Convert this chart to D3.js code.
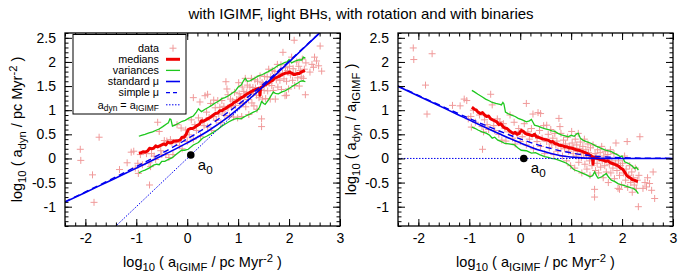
<!DOCTYPE html>
<html><head><meta charset="utf-8">
<script src="https://cdn.jsdelivr.net/npm/d3@7"></script>
<style>
body{margin:0;background:#fff}
svg{display:block}
text{font-family:"Liberation Sans",Arial,Helvetica,sans-serif;white-space:pre;fill:#000}
</style>
</head><body>
<svg id="c" width="680" height="275"></svg>
<script>
// ---------------- data ----------------
const title = "with IGIMF, light BHs, with rotation and with binaries";
const xTickValues = [-2, -1, 0, 1, 2, 3];
const yTickValues = [-1, -0.5, 0, 0.5, 1, 1.5, 2, 2.5];
const legendLabels = ["data", "medians", "variances", "standard \u03bc", "simple \u03bc", "adyn = aIGIMF"];
const a0Log = 0.07;

// scatter: [log10 a_IGIMF, log10 (a_dyn / a_IGIMF)]
const dataPoints = [
  [-2.10,2.29],[-2.09,2.05],[-1.73,2.17],[-1.86,1.52],[-1.83,0.92],[-0.74,0.19],
  [-1.33,1.10],[-1.18,1.09],[-1.10,1.23],[-1.02,0.82],[-0.97,0.87],[-0.96,0.65],
  [-0.58,1.33],[-0.55,1.11],[0.12,1.14],[0.25,0.92],[0.35,0.95],[0.40,0.93],
  [0.76,0.83],[0.78,0.66],[0.80,0.52],[1.01,0.56],[2.10,0.35],[2.35,0.45],
  [2.32,-1.00],[2.64,-0.83],[2.61,-0.28],[2.54,-0.52],[2.48,-0.59],[2.58,-0.66],
  [2.41,-0.62],[1.46,-0.80],[1.46,-0.64],[1.92,-0.62],[1.95,-0.64],[2.45,-0.50],[2.50,-0.40],
  [-0.40,0.76],[-0.36,0.38],[-0.20,0.90],[0.52,0.69],
  [-1.05,1.20],[-0.92,1.00],[-0.88,0.75],[-0.80,0.90],[-0.75,0.66],[-0.72,0.55],
  [-0.70,0.80],[-0.65,0.70],[-0.62,0.60],[-0.52,0.68],[-0.50,0.58],
  [-0.45,0.82],[-0.42,0.50],[-0.33,0.72],[-0.30,0.62],[-0.28,0.36],[-0.22,0.55],
  [-0.15,0.42],[-0.12,0.75],[-0.10,0.30],[-0.06,0.50],[-0.03,0.62],[0.00,0.35],
  [0.04,0.45],[0.08,0.72],[0.12,0.28],[0.15,0.55],[0.18,0.40],[0.22,0.62],
  [0.26,0.20],[0.30,0.48],[0.33,0.35],[0.38,0.58],[0.40,0.25],[0.43,0.42],
  [0.46,0.68],[0.48,0.10],[0.52,0.35],[0.55,0.50],[0.57,0.22],[0.60,0.60],
  [0.62,0.30],[0.64,0.42],[0.66,0.08],[0.68,0.52],[0.70,0.28],[0.72,0.36],
  [0.74,0.15],[0.80,0.25],[0.83,0.05],[0.85,0.38],[0.87,0.20],[0.89,0.30],
  [0.91,-0.05],[0.93,0.44],[0.95,0.15],[0.97,0.25],[0.99,-0.15],
  [1.02,0.32],[1.04,0.10],[1.05,0.22],[1.07,-0.20],[1.08,0.40],[1.10,0.05],
  [1.11,0.28],[1.13,0.15],[1.14,0.52],[1.15,-0.08],[1.17,0.20],[1.18,0.34],
  [1.20,0.02],[1.21,-0.30],[1.23,0.25],[1.24,0.10],[1.26,0.40],[1.27,-0.12],
  [1.29,0.18],[1.30,0.05],[1.31,-0.22],[1.33,0.30],[1.34,0.12],[1.36,-0.05],
  [1.37,-0.35],[1.38,0.22],[1.40,0.02],[1.41,-0.15],[1.43,0.28],[1.44,-0.02],
  [1.47,0.10],[1.48,-0.25],[1.49,0.05],[1.51,-0.10],[1.52,0.18],[1.54,-0.30],
  [1.55,0.00],[1.57,0.12],[1.58,-0.18],[1.60,0.25],[1.61,-0.05],[1.63,-0.40],
  [1.64,0.05],[1.66,-0.15],[1.67,0.15],[1.69,-0.28],[1.70,-0.02],[1.72,0.08],
  [1.73,-0.50],[1.75,-0.12],[1.77,0.18],[1.78,-0.30],[1.80,-0.05],[1.82,-0.20],
  [1.84,0.10],[1.85,-0.42],[1.87,-0.10],[1.88,0.32],[1.90,-0.25],[1.93,-0.05],
  [1.95,-0.35],[1.97,-0.15],[1.99,-0.55],[2.01,-0.10],[2.03,-0.30],[2.05,0.05],
  [2.07,-0.45],[2.08,-0.22],[2.11,-0.60],[2.13,-0.35],[2.15,-0.15],[2.17,-0.50],
  [2.19,-0.28],[2.20,-0.70],[2.22,-0.40],[2.24,-0.55],[2.26,-0.20],[2.28,-0.62],
  [2.30,-0.45],[2.33,-0.35]
];

const medianLine = [
  [-0.95,1.06],[-0.90,1.02],[-0.86,1.00],[-0.83,0.96],[-0.78,0.93],[-0.74,0.95],[-0.70,0.90],
  [-0.66,0.87],[-0.62,0.88],[-0.58,0.82],[-0.54,0.80],[-0.50,0.78],[-0.46,0.76],[-0.42,0.70],
  [-0.38,0.72],[-0.34,0.66],[-0.30,0.63],[-0.26,0.62],[-0.22,0.58],[-0.18,0.55],[-0.14,0.52],
  [-0.10,0.54],[-0.06,0.50],[-0.02,0.52],[0.02,0.58],[0.06,0.56],[0.10,0.52],[0.14,0.50],
  [0.19,0.49],[0.24,0.47],[0.28,0.50],[0.32,0.45],[0.35,0.44],[0.40,0.42],[0.45,0.40],
  [0.50,0.39],[0.55,0.38],[0.60,0.34],[0.64,0.35],[0.68,0.31],[0.72,0.30],[0.76,0.28],
  [0.80,0.27],[0.84,0.26],[0.88,0.24],[0.92,0.24],[0.96,0.22],[1.01,0.21],[1.05,0.20],
  [1.10,0.18],[1.15,0.17],[1.20,0.15],[1.25,0.13],[1.30,0.11],[1.35,0.08],[1.40,0.05],
  [1.42,0.00],[1.43,-0.12],[1.44,0.03],[1.48,0.01],[1.52,0.00],[1.56,-0.02],[1.60,-0.03],
  [1.64,-0.04],[1.68,-0.06],[1.72,-0.05],[1.76,-0.08],[1.80,-0.10],[1.85,-0.12],[1.89,-0.14],
  [1.93,-0.16],[1.97,-0.20],[2.01,-0.22],[2.05,-0.28],[2.09,-0.35],[2.12,-0.38],[2.16,-0.40],
  [2.20,-0.44],[2.24,-0.45],[2.28,-0.47],[2.31,-0.48]
];

const upperVariance = [
  [-0.95,1.41],[-0.90,1.38],[-0.83,1.33],[-0.75,1.28],[-0.68,1.23],[-0.60,1.19],[-0.55,1.16],
  [-0.48,1.14],[-0.40,1.12],[-0.37,1.11],[-0.34,1.16],[-0.32,1.13],[-0.29,0.96],[-0.24,0.93],
  [-0.17,0.90],[-0.10,0.87],[-0.04,0.83],[0.04,0.80],[0.12,0.76],[0.18,0.78],[0.22,0.81],
  [0.25,0.75],[0.28,0.69],[0.35,0.67],[0.42,0.64],[0.48,0.62],[0.55,0.60],[0.62,0.57],
  [0.68,0.56],[0.74,0.52],[0.81,0.49],[0.88,0.47],[0.94,0.45],[1.00,0.48],[1.06,0.46],
  [1.11,0.51],[1.14,0.52],[1.18,0.42],[1.23,0.38],[1.30,0.35],[1.40,0.31],[1.48,0.26],
  [1.55,0.23],[1.59,0.21],[1.66,0.18],[1.72,0.16],[1.79,0.14],[1.86,0.10],[1.92,0.07],
  [1.96,0.04],[2.00,0.05],[2.05,-0.07],[2.12,-0.10],[2.18,-0.14],[2.25,-0.21],[2.28,-0.18],
  [2.32,-0.24]
];

const lowerVariance = [
  [-0.95,0.65],[-0.88,0.62],[-0.83,0.59],[-0.75,0.55],[-0.66,0.52],[-0.60,0.48],[-0.55,0.42],
  [-0.50,0.44],[-0.44,0.38],[-0.37,0.35],[-0.30,0.31],[-0.22,0.30],[-0.11,0.28],[-0.05,0.22],
  [0.02,0.17],[0.12,0.16],[0.18,0.13],[0.22,0.11],[0.30,0.12],[0.38,0.08],[0.48,0.04],
  [0.55,0.02],[0.61,0.00],[0.68,-0.01],[0.74,-0.03],[0.82,-0.06],[0.91,-0.10],[0.98,-0.15],
  [1.04,-0.22],[1.07,-0.24],[1.15,-0.27],[1.23,-0.31],[1.30,-0.34],[1.37,-0.38],[1.42,-0.36],
  [1.46,-0.28],[1.50,-0.36],[1.53,-0.41],[1.60,-0.38],[1.69,-0.31],[1.73,-0.38],[1.79,-0.45],
  [1.86,-0.48],[1.92,-0.52],[2.00,-0.55],[2.06,-0.57],[2.12,-0.59],[2.18,-0.61],[2.22,-0.62],
  [2.27,-0.66],[2.32,-0.73]
];

// model curves: log10 a_IGIMF and boost log10(a_dyn/a_IGIMF)
const modelLogA      = [-2.4, -2.0, -1.6, -1.2, -0.8, -0.4, 0.0, 0.4, 0.8, 1.2, 1.6, 2.0, 2.4, 3.0];
const standardBoost  = [1.495, 1.295, 1.096, 0.897, 0.699, 0.506, 0.323, 0.164, 0.056, 0.012, 0.002, 0.000, 0.000, 0.000];
const simpleBoost    = [1.502, 1.306, 1.113, 0.923, 0.739, 0.564, 0.404, 0.265, 0.156, 0.081, 0.037, 0.016, 0.007, 0.002];
const identityLogA   = [-2.4, 3.0];

// ---------------- drawing ----------------
const svg = d3.select("#c");
const FONT = '"Liberation Sans",Arial,Helvetica,sans-serif';
const C = {pt:"#f09a9a", red:"#f00000", green:"#1ec81e", blue:"#0000f0"};

function rich(textSel, parts, size, subShift = 4, supShift = -5) {
  let cur = 0;
  parts.forEach(([t, m]) => {
    const shift = m === 1 ? subShift : m === 2 ? supShift : 0;
    textSel.append("tspan").attr("dy", shift - cur)
      .attr("font-size", m ? size * 0.78 : size).text(t);
    cur = shift;
  });
  return textSel;
}

svg.append("text").attr("x", 361).attr("y", 18.5).attr("text-anchor", "middle")
  .attr("font-size", 15).text(title);

const TOP = 33, BOT = 226;
const panels = [
  {x0: 65, x1: 340, mode: "abs"},
  {x0: 398, x1: 673, mode: "ratio"}
];

const xMinor = d3.range(-24, 31, 2).map(v => v / 10);
const yMinor = d3.range(-14, 27, 1).map(v => v / 10);

panels.forEach((P, pi) => {
  const x = d3.scaleLinear().domain([-2.4, 3]).range([P.x0, P.x1]);
  const y = d3.scaleLinear().domain([-1.4, 2.6]).range([BOT, TOP]);
  const g = svg.append("g");
  const clipId = "clip" + pi;
  svg.append("clipPath").attr("id", clipId).append("rect")
    .attr("x", P.x0).attr("y", TOP).attr("width", P.x1 - P.x0).attr("height", BOT - TOP);
  const plot = g.append("g").attr("clip-path", `url(#${clipId})`);

  const toY = (lx, r) => P.mode === "abs" ? r + lx : r;

  // data crosses
  const s = 3.5;
  plot.append("g").selectAll("path").data(dataPoints).join("path")
    .attr("d", d => {
      const cx = x(d[0]), cy = y(toY(d[0], d[1]));
      return `M${cx - s},${cy}H${cx + s}M${cx},${cy - s}V${cy + s}`;
    })
    .attr("stroke", C.pt).attr("stroke-width", 1).attr("fill", "none");

  const line = d3.line().x(d => x(d[0])).y(d => y(toY(d[0], d[1])));
  plot.append("path").datum(medianLine).attr("d", line)
    .attr("fill", "none").attr("stroke", C.red).attr("stroke-width", 3).attr("stroke-linejoin", "round");
  [upperVariance, lowerVariance].forEach(v => plot.append("path").datum(v).attr("d", line)
    .attr("fill", "none").attr("stroke", C.green).attr("stroke-width", 1.3));

  const smooth = d3.line().curve(d3.curveMonotoneX).x(d => x(d[0])).y(d => y(toY(d[0], d[1])));
  const stdPts = modelLogA.map((a, i) => [a, standardBoost[i]]);
  const simPts = modelLogA.map((a, i) => [a, simpleBoost[i]]);
  plot.append("path").datum(stdPts).attr("d", smooth)
    .attr("fill", "none").attr("stroke", C.blue).attr("stroke-width", 1.6);
  plot.append("path").datum(simPts).attr("d", smooth)
    .attr("fill", "none").attr("stroke", C.blue).attr("stroke-width", 1.4).attr("stroke-dasharray", "6,4");
  const idPts = identityLogA.map(a => [a, 0]);
  plot.append("path").datum(idPts).attr("d", line)
    .attr("fill", "none").attr("stroke", C.blue).attr("stroke-width", 1).attr("stroke-dasharray", "1.5,1.5");

  // a0 point
  const ax = x(a0Log), ay = y(toY(a0Log, 0));
  plot.append("circle").attr("cx", ax).attr("cy", ay).attr("r", 3.8).attr("fill", "#000");
  rich(g.append("text").attr("x", ax + 7).attr("y", ay + 15), [["a", 0], ["0", 1]], 15);

  // axes
  const style = sel => {
    sel.select(".domain").remove();
    sel.attr("font-size", 14).attr("font-family", FONT);
    sel.selectAll("text").attr("fill", "#000");
    sel.selectAll("line").attr("stroke", "#000").attr("stroke-width", 1);
  };
  const fmt = d => String(d);
  g.append("g").attr("transform", `translate(0,${BOT})`)
    .call(d3.axisBottom(x).tickValues(xMinor).tickSize(-3.5).tickFormat("")).call(style);
  g.append("g").attr("transform", `translate(0,${BOT})`)
    .call(d3.axisBottom(x).tickValues(xTickValues).tickSize(-7).tickPadding(7.5).tickFormat(fmt)).call(style);
  g.append("g").attr("transform", `translate(0,${TOP})`)
    .call(d3.axisTop(x).tickValues(xMinor).tickSize(-3.5).tickFormat("")).call(style);
  g.append("g").attr("transform", `translate(0,${TOP})`)
    .call(d3.axisTop(x).tickValues(xTickValues).tickSize(-7).tickFormat("")).call(style);
  g.append("g").attr("transform", `translate(${P.x0},0)`)
    .call(d3.axisLeft(y).tickValues(yMinor).tickSize(-3.5).tickFormat("")).call(style);
  g.append("g").attr("transform", `translate(${P.x0},0)`)
    .call(d3.axisLeft(y).tickValues(yTickValues).tickSize(-7).tickPadding(9).tickFormat(fmt)).call(style);
  g.append("g").attr("transform", `translate(${P.x1},0)`)
    .call(d3.axisRight(y).tickValues(yMinor).tickSize(-3.5).tickFormat("")).call(style);
  g.append("g").attr("transform", `translate(${P.x1},0)`)
    .call(d3.axisRight(y).tickValues(yTickValues).tickSize(-7).tickFormat("")).call(style);

  g.append("rect").attr("x", P.x0).attr("y", TOP).attr("width", P.x1 - P.x0).attr("height", BOT - TOP)
    .attr("fill", "none").attr("stroke", "#000").attr("stroke-width", 1.3);

  // axis labels
  rich(g.append("text").attr("x", (P.x0 + P.x1) / 2).attr("y", 267).attr("text-anchor", "middle"),
    [["log", 0], ["10", 1], [" ( a", 0], ["IGIMF", 1], [" / pc Myr", 0], ["-2", 2], [" )", 0]], 14.5);
  const yl = g.append("text").attr("text-anchor", "middle")
    .attr("transform", `translate(${pi === 0 ? 22 : 356},${(TOP + BOT) / 2}) rotate(-90)`);
  if (pi === 0) rich(yl, [["log", 0], ["10", 1], [" ( a", 0], ["dyn", 1], [" / pc Myr", 0], ["-2", 2], [" )", 0]], 14.5);
  else rich(yl, [["log", 0], ["10", 1], [" ( a", 0], ["dyn", 1], [" / a", 0], ["IGIMF", 1], [" )", 0]], 14.5);

  // legend (left panel only)
  if (pi === 0) {
    const L = g.append("g");
    L.append("rect").attr("x", 73).attr("y", 34.5).attr("width", 113).attr("height", 79.5)
      .attr("fill", "#fff").attr("stroke", "#000").attr("stroke-width", 1);
    const rowY = [48.2, 59.3, 70.4, 81.5, 92.6, 104.8];
    const fs = 10.8;
    legendLabels.forEach((lab, i) => {
      const cy = rowY[i];
      const t = L.append("text").attr("x", 159).attr("y", cy + 0.35 * fs)
        .attr("text-anchor", "end").attr("font-size", fs);
      if (i === 5) rich(t, [["a", 0], ["dyn", 1], [" = a", 0], ["IGIMF", 1]], fs, 2.5, -4);
      else t.text(lab);
      const x0 = 166, x1 = 180;
      if (i === 0) {
        L.append("path").attr("d", `M${173 - s},${cy}H${173 + s}M173,${cy - s}V${cy + s}`)
          .attr("stroke", C.pt).attr("stroke-width", 1);
      } else {
        const ln = L.append("line").attr("x1", x0).attr("x2", x1).attr("y1", cy).attr("y2", cy);
        if (i === 1) ln.attr("stroke", C.red).attr("stroke-width", 3);
        if (i === 2) ln.attr("stroke", C.green).attr("stroke-width", 1.3);
        if (i === 3) ln.attr("stroke", C.blue).attr("stroke-width", 1.6);
        if (i === 4) ln.attr("stroke", C.blue).attr("stroke-width", 1.4).attr("stroke-dasharray", "4,3");
        if (i === 5) ln.attr("stroke", C.blue).attr("stroke-width", 1).attr("stroke-dasharray", "1.5,1.5");
      }
    });
  }
});
</script>
</body></html>
